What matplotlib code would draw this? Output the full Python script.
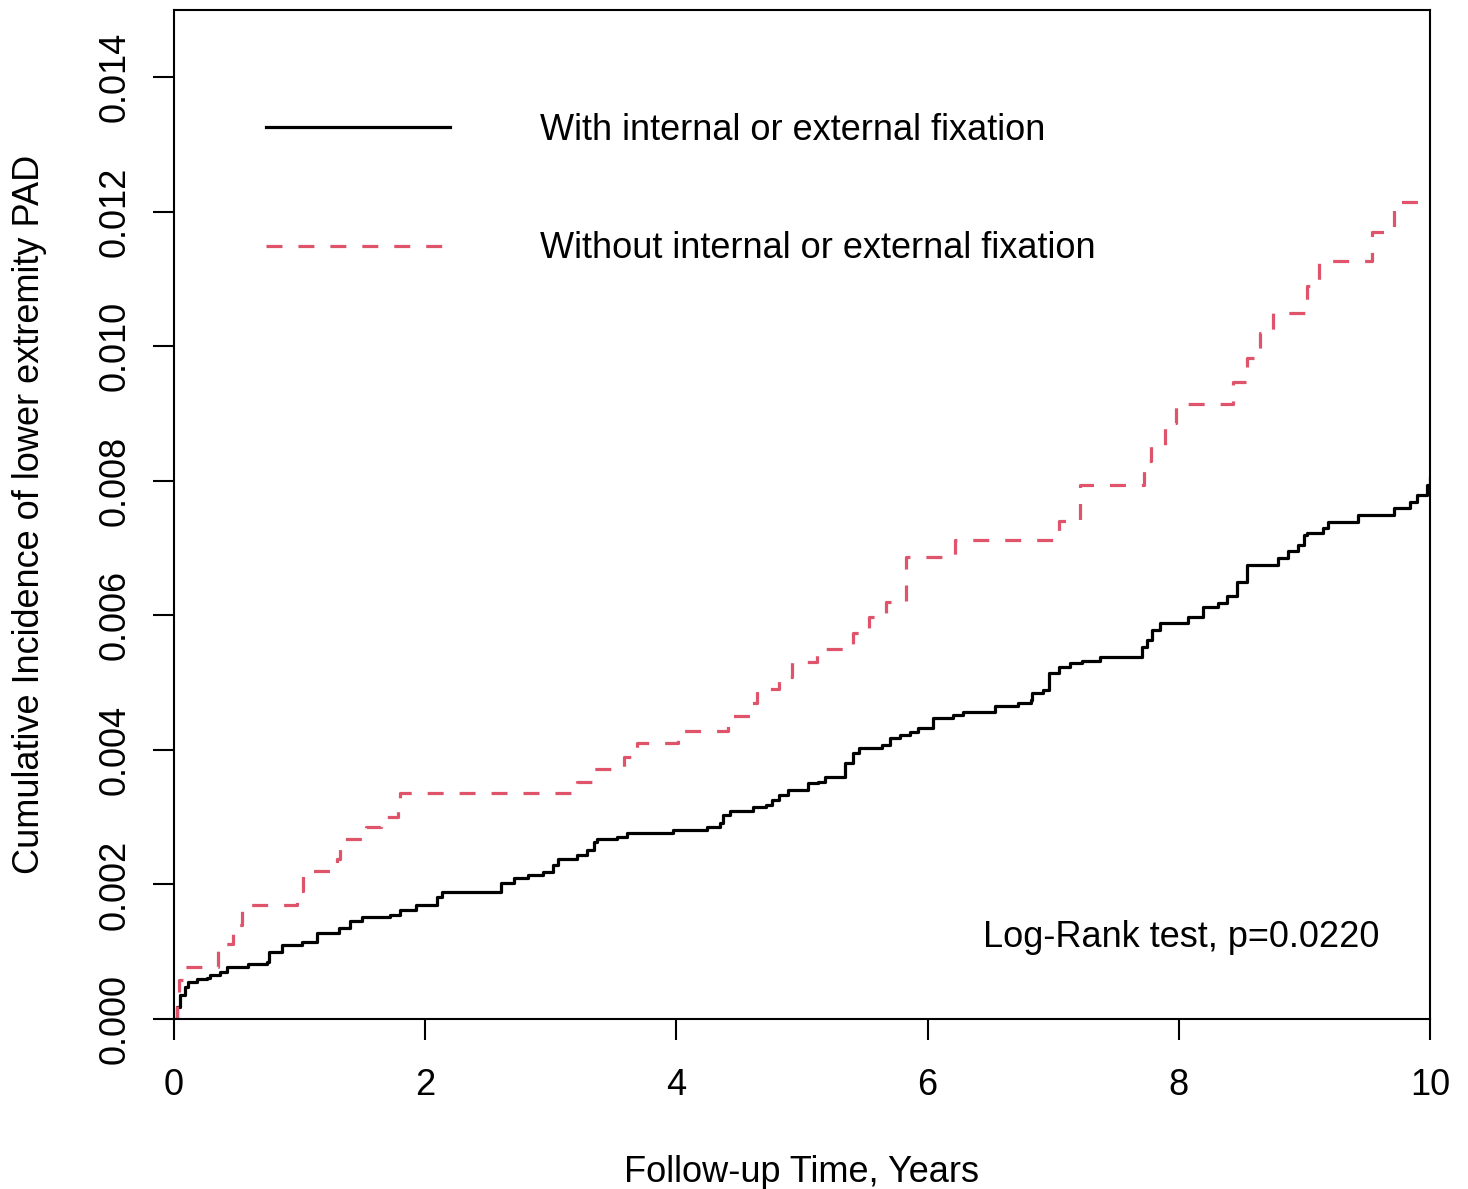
import matplotlib
matplotlib.use('Agg')
import matplotlib.pyplot as plt

plt.rcParams['font.family'] = ['Liberation Sans', 'DejaVu Sans']

# cumulative incidence steps (time in years, incidence)
with_fix_t = [0.00, 0.02, 0.05, 0.09, 0.11, 0.18, 0.26, 0.29, 0.37, 0.42, 0.59, 0.74, 0.76, 0.86,
              1.02, 1.14, 1.31, 1.40, 1.50, 1.72, 1.80, 1.93, 2.09, 2.13, 2.60, 2.71, 2.82, 2.94,
              3.02, 3.06, 3.21, 3.29, 3.34, 3.37, 3.53, 3.61, 3.97, 4.24, 4.35, 4.37, 4.43, 4.61,
              4.71, 4.76, 4.82, 4.89, 5.05, 5.13, 5.18, 5.34, 5.41, 5.45, 5.64, 5.70, 5.78, 5.86,
              5.92, 6.04, 6.20, 6.28, 6.54, 6.72, 6.82, 6.83, 6.92, 6.97, 7.05, 7.13, 7.23, 7.37,
              7.71, 7.75, 7.79, 7.85, 8.07, 8.19, 8.31, 8.38, 8.46, 8.54, 8.79, 8.87, 8.95, 9.00,
              9.02, 9.15, 9.19, 9.43, 9.71, 9.84, 9.90, 9.98, 10.00]
with_fix_ci = [0.00, 0.18, 0.36, 0.48, 0.55, 0.60, 0.61, 0.65, 0.70, 0.77, 0.82, 0.85, 1.00, 1.10,
               1.15, 1.28, 1.35, 1.45, 1.52, 1.55, 1.62, 1.70, 1.81, 1.89, 2.02, 2.10, 2.14, 2.19,
               2.29, 2.38, 2.44, 2.51, 2.63, 2.68, 2.71, 2.77, 2.81, 2.86, 2.91, 3.03, 3.09, 3.15,
               3.18, 3.26, 3.33, 3.41, 3.51, 3.52, 3.60, 3.81, 3.96, 4.03, 4.07, 4.18, 4.22, 4.27,
               4.33, 4.48, 4.52, 4.57, 4.65, 4.70, 4.74, 4.85, 4.89, 5.14, 5.23, 5.29, 5.32, 5.38,
               5.53, 5.64, 5.78, 5.89, 5.98, 6.13, 6.19, 6.29, 6.50, 6.75, 6.86, 6.95, 7.05, 7.20,
               7.23, 7.30, 7.39, 7.49, 7.60, 7.69, 7.79, 7.94, 8.04]

without_fix_t = [0.00, 0.02, 0.04, 0.07, 0.35, 0.40, 0.47, 0.54, 0.98, 1.03, 1.30, 1.32, 1.53, 1.65,
                 1.78, 1.80, 3.21, 3.33, 3.58, 3.69, 4.01, 4.41, 4.59, 4.64, 4.82, 4.92, 5.12, 5.41,
                 5.53, 5.67, 5.83, 6.22, 7.05, 7.21, 7.72, 7.78, 7.89, 7.98, 8.43, 8.54, 8.65, 8.75,
                 9.02, 9.12, 9.54, 9.71, 10.00]
without_fix_ci = [0.00, 0.30, 0.58, 0.77, 1.05, 1.12, 1.40, 1.70, 1.90, 2.20, 2.38, 2.67, 2.86, 3.00,
                  3.20, 3.36, 3.52, 3.72, 3.90, 4.10, 4.28, 4.50, 4.70, 4.90, 5.09, 5.30, 5.50, 5.74,
                  5.97, 6.20, 6.87, 7.12, 7.40, 7.94, 8.30, 8.52, 8.86, 9.14, 9.47, 9.83, 10.20, 10.50,
                  10.89, 11.27, 11.70, 12.15, 12.15]

x_ticks = [0, 2, 4, 6, 8, 10]
y_ticks = [0.000, 0.002, 0.004, 0.006, 0.008, 0.010, 0.012, 0.014]
labels = ['With internal or external fixation', 'Without internal or external fixation']

fig = plt.figure(figsize=(14.68, 11.89), dpi=100)
ax = fig.add_axes([174 / 1468, 1 - 1019 / 1189, 1256 / 1468, 1009 / 1189])

ax.step(with_fix_t, [v / 1000 for v in with_fix_ci], where='post', color='black',
        linewidth=2.3, label=labels[0])
ax.step(without_fix_t, [v / 1000 for v in without_fix_ci], where='post', color='#DF536B',
        linewidth=2.3, dashes=(5, 5), label=labels[1])

ax.set_xlim(0, 10)
ax.set_ylim(0, 0.015)
ax.set_xticks(x_ticks)
ax.set_xticklabels([str(t) for t in x_ticks])
ax.set_yticks(y_ticks)
ax.set_yticklabels([f'{t:.3f}' for t in y_ticks], rotation=90, va='center')

for s in ax.spines.values():
    s.set_linewidth(1.5)
ax.tick_params(axis='both', direction='out', length=15, width=1.5, labelsize=26)
ax.tick_params(axis='x', pad=20)
ax.tick_params(axis='y', pad=15)

ax.set_xlabel('Follow-up Time, Years', fontsize=26, labelpad=38)
ax.set_ylabel('Cumulative Incidence of lower extremity PAD', fontsize=26, labelpad=36)

ax.legend(loc='upper left', bbox_to_anchor=(0.047, 0.930), frameon=False, fontsize=26,
          handlelength=5.1, handletextpad=2.5, labelspacing=2.3)

ax.text(0.96, 0.081, 'Log-Rank test, p=0.0220', transform=ax.transAxes, ha='right',
        va='center', fontsize=26)

fig.savefig('out.png', dpi=100)
